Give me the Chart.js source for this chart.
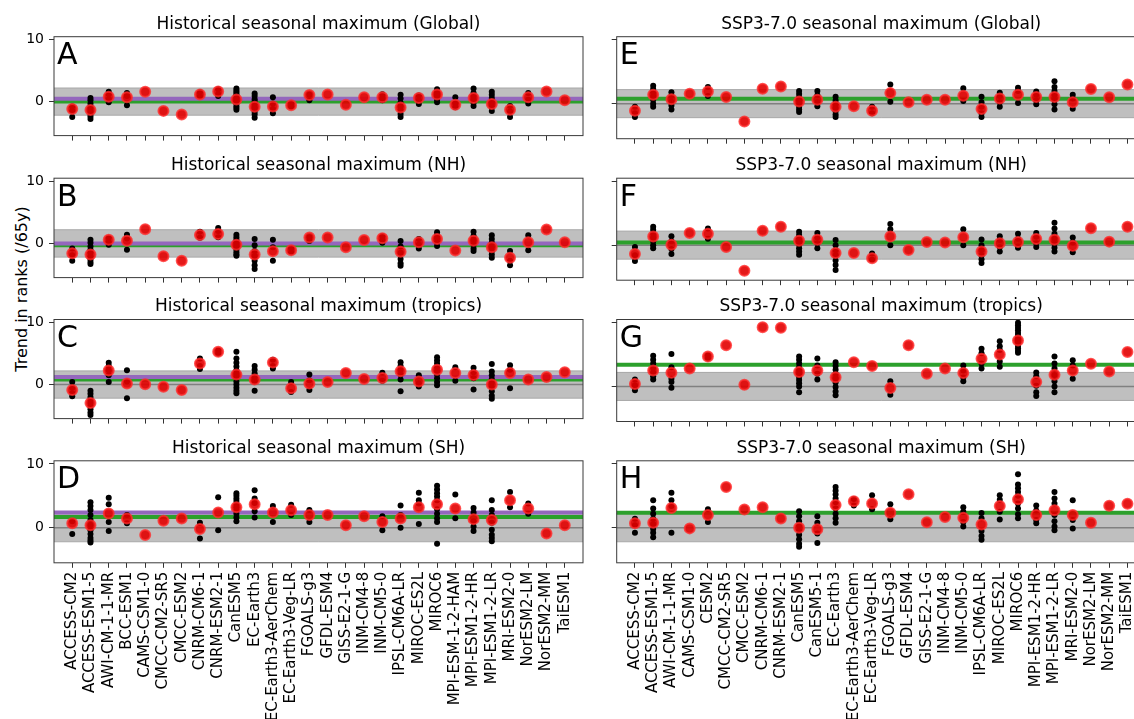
<!DOCTYPE html>
<html>
<head>
<meta charset="utf-8">
<script src="https://cdn.jsdelivr.net/npm/chart.js@4"></script>
<style>
  html, body { margin: 0; padding: 0; background: #fff; width: 1134px; height: 719px; overflow: hidden; }
  canvas { position: absolute; }
  #ylabel {
    position: absolute; left: 21px; top: 289px;
    transform: translate(-50%, -50%) rotate(-90deg);
    font: 16px "DejaVu Sans"; color: #000; white-space: nowrap;
  }
</style>
</head>
<body>
<div id="ylabel">Trend in ranks (/65y)</div>
<script>
// --- categories ---
const histModels = ['ACCESS-CM2','ACCESS-ESM1-5','AWI-CM-1-1-MR','BCC-ESM1','CAMS-CSM1-0','CMCC-CM2-SR5','CMCC-ESM2',
  'CNRM-CM6-1','CNRM-ESM2-1','CanESM5','EC-Earth3','EC-Earth3-AerChem','EC-Earth3-Veg-LR','FGOALS-g3','GFDL-ESM4',
  'GISS-E2-1-G','INM-CM4-8','INM-CM5-0','IPSL-CM6A-LR','MIROC-ES2L','MIROC6','MPI-ESM-1-2-HAM','MPI-ESM1-2-HR',
  'MPI-ESM1-2-LR','MRI-ESM2-0','NorESM2-LM','NorESM2-MM','TaiESM1']
const sspModels = ['ACCESS-CM2','ACCESS-ESM1-5','AWI-CM-1-1-MR','CAMS-CSM1-0','CESM2','CMCC-CM2-SR5','CMCC-ESM2',
  'CNRM-CM6-1','CNRM-ESM2-1','CanESM5','CanESM5-1','EC-Earth3','EC-Earth3-AerChem','EC-Earth3-Veg-LR','FGOALS-g3',
  'GFDL-ESM4','GISS-E2-1-G','INM-CM4-8','INM-CM5-0','IPSL-CM6A-LR','MIROC-ES2L','MIROC6','MPI-ESM1-2-HR',
  'MPI-ESM1-2-LR','MRI-ESM2-0','NorESM2-LM','NorESM2-MM','TaiESM1']

const yTicks = [0, 10]
const yLimits = [-5.5, 10.5]
const bandHalf = 2.2

const histTitles = ['Historical seasonal maximum (Global)', 'Historical seasonal maximum (NH)',
  'Historical seasonal maximum (tropics)', 'Historical seasonal maximum (SH)']
const sspTitles = ['SSP3-7.0 seasonal maximum (Global)', 'SSP3-7.0 seasonal maximum (NH)',
  'SSP3-7.0 seasonal maximum (tropics)', 'SSP3-7.0 seasonal maximum (SH)']

// multi-model lines
const histGreen = [0.0, -0.3, 0.8, 1.7]
const histPurple = [0.45, 0.0, 1.2, 2.4]
const sspGreen = [0.75, 0.4, 3.4, 2.35]

// --- model means (red) and ensemble members (black) ---
const histGlobalMean = [-1.2,-1.35,0.8,0.7,1.6,-1.5,-2.1,1.15,1.65,0.35,-0.85,-0.8,-0.6,1.05,1.15,-0.5,0.7,0.7,-0.95,0.6,1.15,-0.5,0.6,-0.4,-1.3,0.7,1.65,0.2]
const histGlobalMembers = [
  [-0.8,-1.5,-2.5],[0.6,0.2,-0.3,-0.8,-1.2,-1.6,-2.0,-2.4,-2.8],[1.6,1.2,0.4,-0.1],[1.4,0.9,-0.6],[],[],[],
  [1.5,0.9],[2.0,1.2,0.9],[2.1,1.8,1.5,1.2,0.9,0.6,0.3,0,-0.3,-0.7,-1.0,-1.3],[1.3,0.9,0.4,0,-0.4,-0.9,-1.3,-1.7,-2.1,-2.6],
  [0.7,-0.3,-1.2,-1.9],[-0.3,-0.8],[1.1,0.2],[],[],[],[1.2,0.6,0.2],[1.1,0.5,-0.2,-0.8,-1.4,-2.0,-2.5],[1.0,0.2,-0.4],
  [2.0,1.6,1.2,0.8,0.3,-0.1],[0.7,-0.3,-0.9],[2.1,1.4,0.9,0.3,-0.2,-0.7],[1.6,1.1,0.6,0.1,-0.4,-0.9,-1.5],
  [-0.7,-1.6,-2.5],[1.4,0.3,-0.3],[],[]]

const histNHMean = [-1.6,-1.8,0.6,0.45,2.3,-2.05,-2.8,1.35,1.5,-0.2,-1.8,-1.25,-1.1,0.95,0.95,-0.6,0.55,0.85,-1.35,0.2,0.7,-1.15,0.45,-0.6,-2.3,0.2,2.25,0.2]
const histNHMembers = [
  [-0.8,-1.9,-2.8],[0.6,0.1,-0.5,-1.0,-1.5,-2.1,-2.6,-3.0,-3.3],[0.9,0.2,-0.2],[1.4,0.8,-1.0],[],[],[],
  [1.9,0.9],[2.5,2.0,1.0],[1.4,1.0,0.6,0.2,-0.2,-0.6,-1.0,-1.4,-1.8,-2.0],[0.7,-0.3,-1.2,-2.0,-2.8,-3.5,-4.1],
  [0.6,-0.6,-2.8],[-0.8,-1.4],[1.0,0.4],[],[],[],[1.2,0.5,0.1],[0.4,-0.5,-1.5,-2.5,-3.2,-3.6],[0.7,-0.2,-0.8],
  [1.8,1.3,0.8,0.2,-0.4],[],[1.9,1.2,0.5,-0.2,-0.8,-1.2],[1.3,0.7,0.1,-0.6,-1.2,-1.8,-2.3],
  [-1.2,-2.8,-3.5],[1.3,-1.1],[],[]]

const histTropMean = [-0.9,-3.0,2.25,0.15,0.05,-0.35,-0.9,3.4,5.3,1.6,0.8,3.55,-0.6,0.15,0.4,1.85,0.9,1.05,2.15,0.5,2.4,1.85,1.55,0.0,1.85,0.8,1.2,2.0]
const histTropMembers = [
  [0.4,-0.5,-1.4,-1.9],[-1.0,-1.5,-2.0,-2.5,-3.0,-3.5,-4.0,-4.5,-4.9],[3.5,3.0,2.3,1.5,0.4],[2.3,0.5,-2.2],[],[],[],
  [4.2,3.0,2.5],[5.5,5.0],[5.3,4.2,3.5,2.9,2.3,1.7,1.1,0.5,0,-0.5,-1.0,-1.4],[3.0,2.4,1.8,1.2,0.5,-1.0],
  [4.0,3.0,2.6],[0.4,-1.2],[1.6,0.7,-0.9],[],[],[],[1.9,0.6],[3.6,3.0,2.4,1.6,0.8,-1.1],[1.5,0.2,-0.3],
  [4.4,3.9,3.4,2.8,2.2,1.6,1.0,0.4,-0.1],[2.8,0.6],[2.7,2.0,1.0,-0.8],[3.3,2.1,1.5,0.9,0.3,-0.4,-1.1,-1.8,-2.3],
  [3.1,2.4,-0.6],[],[],[]]

const histSHMean = [0.7,0.4,2.25,1.45,-1.15,1.1,1.45,-0.2,2.4,3.2,3.7,2.4,2.75,2.0,2.0,0.4,1.8,0.9,1.45,3.2,3.7,3.0,1.35,1.2,4.3,3.0,-0.9,0.4]
const histSHMembers = [
  [1.0,-1.0],[4.0,3.4,2.8,2.0,1.2,0.4,-0.4,-1.0,-1.6,-2.0,-2.3],[4.7,3.7,0.9,-0.5],[2.0,0.7],[],[],[],
  [0.8,-1.7],[4.8,-0.4],[5.4,5.0,4.6,4.2,3.7,3.2,2.7,2.2,1.6,1.0],[5.9,4.6,3.9,2.6,1.6],[3.4,0.9],[3.6,2.0],
  [2.8,0.9],[],[],[],[1.8,-0.4],[3.5,2.0,0.0],[5.5,4.3,3.8,0.6],[6.6,6.0,5.4,4.9,4.3,2.9,2.2,1.5,0.9,-2.5],
  [5.2,1.5],[3.1,2.4,1.0,0.2,-0.5],[4.3,2.8,2.0,0.8,-0.3,-1.1,-1.6,-2.1],[5.6,3.2],[3.8,2.2],[],[]]

const sspGlobalMean = [-1.1,1.4,0.7,1.55,1.9,1.05,-2.8,2.35,2.7,0.35,0.6,-0.5,-0.4,-1.1,1.65,0.2,0.6,0.6,1.25,-0.85,0.8,1.4,1.05,1.05,0.2,2.3,1.0,3.0]
const sspGlobalMembers = [
  [-0.5,-1.5,-2.1],[2.8,2.3,1.8,1.2,0.6,0.0,-0.5],[1.8,1.2,0.3,-0.3,-0.9],[],[2.6,1.2],[],[],[],[],
  [2.0,1.5,1.0,0.5,0.0,-0.5,-0.9,-1.3],[2.0,1.3,0.2,-0.4],[1.1,0.5,-0.1,-0.7,-1.2,-1.7,-2.1],[],[-0.5,-1.5],
  [3.0,0.3],[],[],[],[2.4,0.4],[1.1,0.2,-0.5,-1.5,-2.1],[1.7,1.2,0.2,-0.5],[2.5,2.0,0.1],[1.9,1.4,0.5,-0.1],
  [3.5,2.6,2.0,1.4,0.6,-0.1,-0.9],[1.4,0.8,-0.8],[],[],[]]

const sspNHMean = [-1.4,1.35,0.05,1.9,1.8,-0.3,-4.0,2.25,2.9,0.7,0.85,-1.25,-1.25,-2.05,1.35,-0.75,0.5,0.4,1.25,-1.0,0.3,0.5,0.95,0.85,-0.1,2.65,0.55,2.9]
const sspNHMembers = [
  [-0.3,-1.6,-2.5],[2.9,2.4,1.8,1.2,0.6,0.0,-0.5],[1.4,0.6,-0.6,-1.4],[],[2.6,1.0],[],[],[],[],
  [2.1,1.6,1.1,0.6,0.1,-0.5,-1.0,-1.5],[1.9,1.2,0.3,-0.5],[0.8,0.0,-0.8,-1.6,-2.4,-3.1,-3.9],[],[-1.3,-2.3],
  [3.3,2.5,0.0],[],[],[],[2.5,0.0],[0.9,0.0,-0.8,-1.6,-2.2,-2.8],[1.4,0.8,-0.3,-1.0],[1.8,1.0,-0.2,-0.4],
  [1.9,1.3,0.3,-0.3],[3.5,2.6,1.8,1.0,0.2,-0.4,-1.0],[1.2,0.4,-1.1],[],[],[]]

const sspTropMean = [0.4,2.5,2.15,2.8,4.7,6.45,0.25,9.3,9.2,2.25,2.5,1.45,3.8,3.2,-0.25,6.45,2.0,2.8,2.1,4.35,5.0,7.2,0.7,1.85,2.5,3.55,2.35,5.4]
const sspTropMembers = [
  [1.1,0.2,-0.6],[4.8,4.2,3.6,2.9,2.2,1.6,1.1],[5.1,3.0,1.2,0.7,-0.2],[],[4.9,4.4],[],[],[],[],
  [4.7,4.2,3.6,3.0,2.5,2.0,1.5,1.0,0.5,0.0,-0.9],[4.4,3.3,2.0,1.1],[3.8,3.2,2.6,2.0,1.3,0.6,-0.1,-0.8,-1.4],
  [],[],[0.8,-1.3],[],[],[],[3.3,2.5,1.4,0.8],[5.9,5.2,3.6,2.8],[7.1,6.3,5.7,3.9,3.1],
  [10.0,9.6,9.2,8.8,8.4,8.0,7.6,7.2,6.8,6.4,6.0,5.6,5.3],[2.2,1.6,0.1,-0.9,-1.5],[4.7,3.6,2.8,1.8,0.8,0.0,-0.9],
  [4.1,3.3,1.2],[],[],[]]

const sspSHMean = [0.7,0.8,3.1,-0.1,2.0,6.4,2.85,3.2,1.45,0.0,-0.25,3.55,4.15,3.8,2.35,5.25,0.85,1.7,1.55,0.5,3.4,4.45,2.0,2.75,2.0,0.8,3.45,3.75]
const sspSHMembers = [
  [1.4,0.4,-0.8],[4.3,3.0,2.2,1.4,0.6,-0.2,-0.8,-1.5],[5.5,4.3,3.4,-0.8],[],[2.9,0.9],[],[],[],[],
  [2.6,1.8,1.0,0.3,-0.4,-1.1,-1.8,-2.5,-3.0],[1.8,0.8,-0.9,-2.4],[6.4,5.8,5.2,4.6,4.0,3.0,2.2,1.5,0.8],
  [4.5,3.5],[5.1,2.9],[3.7,1.35],[],[],[],[3.2,2.5,0.9,0.2],[2.3,1.5,-0.5,-1.3,-1.9],[5.1,4.4,2.5,1.3],
  [8.4,6.8,6.2,5.6,5.0,3.8,3.0,2.1,1.5],[3.5,2.7,1.2,0.7],[5.6,4.6,3.8,2.0,1.0,0.2,-0.4],[4.3,1.2,-0.1],[],[],[]]

Chart.defaults.font.family = 'DejaVu Sans'
Chart.defaults.color = '#000'

// layout of the 2x4 grid (plot area tops, in page px)
const panelTops = [36.7, 178.2, 319.5, 460.8]
const canvasTops = [0, 142, 283, 424]
const panelHeight = 102

// bands, reference lines, frame, title, panel letter
const panelDecor = {
  id: 'panelDecor',
  beforeDatasetsDraw(chart, args, opts) {
    const { ctx, chartArea: a, scales: { y } } = chart
    const hline = (v) => {
      const py = y.getPixelForValue(v)
      ctx.beginPath(); ctx.moveTo(a.left, py); ctx.lineTo(a.right, py); ctx.stroke()
    }
    ctx.save()
    const top = y.getPixelForValue(bandHalf), bot = y.getPixelForValue(-bandHalf)
    ctx.fillStyle = '#bfbfbf'
    ctx.fillRect(a.left, top, a.right - a.left, bot - top)
    ctx.strokeStyle = '#a8a8a8'; ctx.lineWidth = 1
    hline(bandHalf); hline(-bandHalf)
    ctx.strokeStyle = '#808080'; ctx.lineWidth = 1.5
    hline(0)
    ctx.lineWidth = 4
    ctx.strokeStyle = '#2ca02c'
    hline(opts.green)
    if (opts.purple !== null) { ctx.strokeStyle = '#9467bd'; hline(opts.purple) }
    ctx.restore()
  },
  afterDraw(chart, args, opts) {
    const { ctx, chartArea: a } = chart
    ctx.save()
    ctx.strokeStyle = '#3a3a3a'; ctx.lineWidth = 1
    ctx.strokeRect(a.left, a.top, a.right - a.left, a.bottom - a.top)
    ctx.fillStyle = '#000'
    ctx.font = '17px "DejaVu Sans"'
    ctx.textAlign = 'center'; ctx.textBaseline = 'middle'
    ctx.fillText(opts.title, (a.left + a.right) / 2, a.top - 12.5)
    ctx.font = '30px "DejaVu Sans"'
    ctx.textAlign = 'left'; ctx.textBaseline = 'alphabetic'
    ctx.fillText(opts.letter, a.left + 3, a.top + 27.3)
    ctx.restore()
  }
}

function makePanel(p) {
  const canvas = document.createElement('canvas')
  canvas.width = p.width
  canvas.height = p.height
  canvas.style.left = p.left + 'px'
  canvas.style.top = p.top + 'px'
  document.body.appendChild(canvas)

  const memberPts = []
  p.members.forEach((arr, i) => arr.forEach(v => memberPts.push({ x: i, y: v })))
  const meanPts = p.mean.map((v, i) => ({ x: i, y: v }))

  new Chart(canvas.getContext('2d'), {
    type: 'scatter',
    data: {
      datasets: [{
        data: meanPts,
        pointRadius: 5,
        backgroundColor: 'rgba(225, 0, 0, 0.9)',
        borderColor: 'rgba(255, 45, 45, 0.8)',
        borderWidth: 2
      }, {
        data: memberPts,
        pointRadius: 3,
        backgroundColor: '#000',
        borderWidth: 0
      }]
    },
    options: {
      responsive: false,
      animation: false,
      devicePixelRatio: 1,
      layout: { padding: { top: p.padTop, right: p.padRight, left: 0, bottom: 0 } },
      scales: {
        x: {
          type: 'linear',
          min: -1,
          max: 28,
          afterBuildTicks: s => { s.ticks = p.cats.map((c, i) => ({ value: i })) },
          afterFit: s => { s.height = p.xHeight },
          border: { display: false },
          grid: { drawOnChartArea: false, drawTicks: true, tickLength: 5, tickColor: '#333' },
          ticks: {
            display: p.showLabels,
            autoSkip: false,
            minRotation: 90,
            maxRotation: 90,
            padding: 4,
            font: { size: 15 },
            callback: v => p.cats[v]
          }
        },
        y: {
          min: yLimits[0],
          max: yLimits[1],
          afterBuildTicks: s => { s.ticks = yTicks.map(v => ({ value: v })) },
          afterFit: s => { s.width = p.yWidth },
          border: { display: false },
          grid: { drawOnChartArea: false, drawTicks: true, tickLength: 5, tickColor: '#333' },
          ticks: { display: p.showY, padding: 5, font: { size: 14 } }
        }
      },
      plugins: {
        legend: { display: false },
        tooltip: { enabled: false },
        panelDecor: { title: p.title, letter: p.letter, green: p.green, purple: p.purple }
      }
    },
    plugins: [panelDecor]
  })
}

const histMeans = [histGlobalMean, histNHMean, histTropMean, histSHMean]
const histMembers = [histGlobalMembers, histNHMembers, histTropMembers, histSHMembers]
const sspMeans = [sspGlobalMean, sspNHMean, sspTropMean, sspSHMean]
const sspMembers = [sspGlobalMembers, sspNHMembers, sspTropMembers, sspSHMembers]

for (let r = 0; r < 4; r++) {
  const last = r === 3
  const padTop = panelTops[r] - canvasTops[r]
  const height = last ? 719 - canvasTops[r] : Math.ceil(padTop + panelHeight + 10)
  const xHeight = height - padTop - panelHeight
  // left column: historical
  makePanel({
    left: 0, top: canvasTops[r], width: 600, height, padTop, padRight: 17, yWidth: 54, xHeight,
    showLabels: last, showY: true, cats: histModels, mean: histMeans[r], members: histMembers[r],
    title: histTitles[r], letter: 'ABCD'[r], green: histGreen[r], purple: histPurple[r]
  })
  // right column: SSP3-7.0
  makePanel({
    left: 600, top: canvasTops[r], width: 560, height, padTop, padRight: 14.3, yWidth: 16.7, xHeight,
    showLabels: last, showY: false, cats: sspModels, mean: sspMeans[r], members: sspMembers[r],
    title: sspTitles[r], letter: 'EFGH'[r], green: sspGreen[r], purple: null
  })
}
</script>
</body>
</html>
